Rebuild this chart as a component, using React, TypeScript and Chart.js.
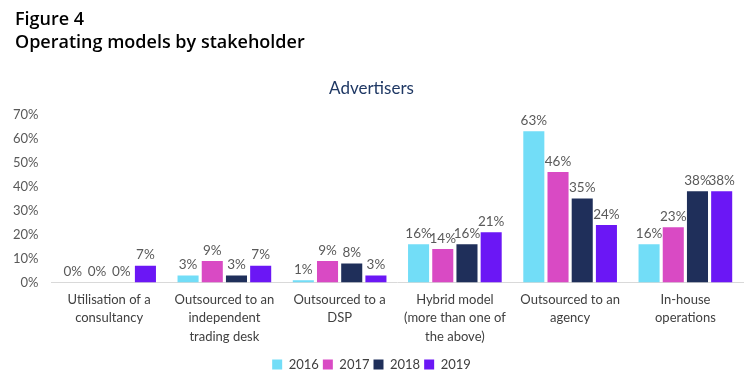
import React, { useEffect, useRef } from "react";
import { Chart, registerables } from "chart.js";

Chart.register(...registerables);

const categories: string[][] = [
  ["Utilisation of a", "consultancy"],
  ["Outsourced to an", "independent", "trading desk"],
  ["Outsourced to a", "DSP"],
  ["Hybrid model", "(more than one of", "the above)"],
  ["Outsourced to an", "agency"],
  ["In-house", "operations"],
];
const seriesNames = ["2016", "2017", "2018", "2019"];
const values2016 = [0, 3, 1, 16, 63, 16];
const values2017 = [0, 9, 9, 14, 46, 23];
const values2018 = [0, 3, 8, 16, 35, 38];
const values2019 = [7, 7, 3, 21, 24, 38];
const seriesColors = ["#72DDF7", "#D94AC4", "#1F2F5A", "#6B17F5"];
const yTicks = [0, 10, 20, 30, 40, 50, 60, 70];

const FONT = "Lato, 'Open Sans', sans-serif";

const valueLabels = {
  id: "valueLabels",
  afterDatasetsDraw(chart: any) {
    const ctx = chart.ctx;
    ctx.save();
    ctx.font = `13.5px ${FONT}`;
    ctx.fillStyle = "#595959";
    ctx.textAlign = "center";
    ctx.textBaseline = "bottom";
    chart.data.datasets.forEach((ds: any, i: number) => {
      const meta = chart.getDatasetMeta(i);
      meta.data.forEach((el: any, j: number) => {
        ctx.fillText(`${ds.data[j]}%`, el.x, el.y - 4);
      });
    });
    ctx.restore();
  },
};

export default function App() {
  const ref = useRef<HTMLCanvasElement | null>(null);
  useEffect(() => {
    if (!ref.current) return;
    const all = [values2016, values2017, values2018, values2019];
    const chart = new Chart(ref.current, {
      type: "bar",
      data: {
        labels: categories,
        datasets: seriesNames.map((n, i) => ({
          label: n,
          data: all[i],
          backgroundColor: seriesColors[i],
          categoryPercentage: 0.84,
          barPercentage: 0.87,
        })),
      },
      options: {
        animation: false,
        responsive: false,
        maintainAspectRatio: false,
        layout: { padding: { top: 78, left: 0, right: 9, bottom: 0 } },
        plugins: {
          title: {
            display: true,
            text: "Advertisers",
            color: "#1F3864",
            font: { family: FONT, size: 17, weight: "normal" },
            padding: { top: 0, bottom: 16 },
          },
          legend: {
            position: "bottom",
            labels: {
              boxWidth: 10,
              boxHeight: 10,
              padding: 4,
              color: "#404040",
              font: { family: FONT, size: 13 },
            },
          },
          tooltip: { enabled: false },
        },
        scales: {
          x: {
            grid: { display: false, drawTicks: false },
            border: { color: "#D9D9D9", width: 1 },
            ticks: {
              color: "#404040",
              font: { family: FONT, size: 13, lineHeight: 1.42 },
              maxRotation: 0,
              autoSkip: false,
              padding: 8,
            },
          },
          y: {
            min: 0,
            max: 70,
            grid: { display: false, drawTicks: false },
            border: { display: false },
            afterBuildTicks: (axis: any) => {
              axis.ticks = yTicks.map((v) => ({ value: v }));
            },
            ticks: {
              color: "#595959",
              font: { family: FONT, size: 13 },
              padding: 13,
              callback: (v: any) => `${v}%`,
            },
          },
        },
      },
      plugins: [valueLabels],
    } as any);
    return () => chart.destroy();
  }, []);

  return (
    <div style={{ position: "absolute", left: 0, top: 0, width: 752, height: 381, background: "#fff" }}>
      <canvas ref={ref} width={752} height={381} style={{ position: "absolute", left: 0, top: 0 }} />
      <div
        style={{
          position: "absolute",
          left: 15,
          top: 7,
          fontFamily: "'Open Sans', sans-serif",
          fontSize: 18,
          lineHeight: "23px",
          fontWeight: 600,
          color: "#000",
        }}
      >
        <div>Figure 4</div>
        <div>Operating models by stakeholder</div>
      </div>
    </div>
  );
}
